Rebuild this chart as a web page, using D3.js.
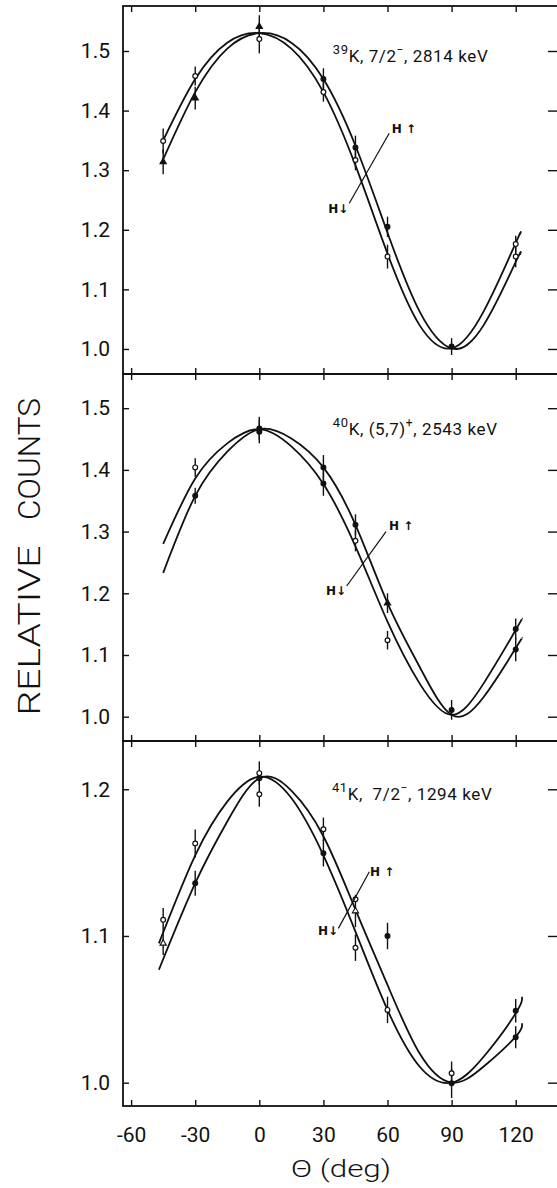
<!DOCTYPE html>
<html>
<head>
<meta charset="utf-8">
<script src="https://cdn.jsdelivr.net/npm/d3@7"></script>
<style>
  body { margin: 0; background: #fff; }
  svg { display: block; }
  text { font-family: Roboto, "DejaVu Sans", sans-serif; fill: #111; }
</style>
</head>
<body>
<script>
// x axis ticks (deg)
const xTicks = [-60, -30, 0, 30, 60, 90, 120];

// ---- 39K panel ----
const topTicks = [1.0, 1.1, 1.2, 1.3, 1.4, 1.5];
const topTheta = [-45, -30, -15, 0, 15, 30, 45, 60, 75, 90, 105, 120, 122];
const topDown  = [1.350, 1.453, 1.514, 1.530, 1.504, 1.431, 1.308, 1.160, 1.040, 1.001, 1.063, 1.178, 1.192];
const topUp    = [1.318, 1.431, 1.504, 1.530, 1.514, 1.453, 1.341, 1.195, 1.063, 1.001, 1.040, 1.146, 1.158];
// [theta, value, error, marker]
const topPoints = [
  [-45, 1.349, 0.021, "o"], [-45, 1.314, 0.021, "t"],
  [-30, 1.458, 0.016, "o"], [-30, 1.421, 0.019, "t"],
  [0, 1.541, 0.019, "t"], [0, 1.520, 0.024, "o"],
  [30, 1.453, 0.018, "f"], [30, 1.431, 0.016, "o"],
  [45, 1.338, 0.020, "f"], [45, 1.317, 0.017, "o"],
  [60, 1.205, 0.017, "f"], [60, 1.155, 0.020, "o"],
  [90, 1.004, 0.014, "f"],
  [120, 1.176, 0.014, "o"], [120, 1.155, 0.018, "o"]
];

// ---- 40K panel ----
const midTicks = [1.0, 1.1, 1.2, 1.3, 1.4, 1.5];
const midTheta = [-45, -30, -15, 0, 15, 30, 45, 60, 75, 90, 105, 120, 123];
const midDown  = [1.280, 1.386, 1.443, 1.466, 1.438, 1.377, 1.276, 1.154, 1.054, 1.003, 1.054, 1.1405, 1.159];
const midUp    = [1.233, 1.358, 1.4295, 1.466, 1.451, 1.404, 1.311, 1.184, 1.081, 1.003, 1.032, 1.111, 1.127];
const midPoints = [
  [-30, 1.404, 0.015, "o"], [-30, 1.358, 0.013, "f"],
  [0, 1.467, 0.019, "f"], [0, 1.462, 0.019, "f"],
  [30, 1.404, 0.020, "f"], [30, 1.378, 0.020, "f"],
  [45, 1.311, 0.017, "f"], [45, 1.285, 0.017, "o"],
  [60, 1.184, 0.016, "t"], [60, 1.124, 0.015, "o"],
  [90, 1.011, 0.016, "f"],
  [120, 1.142, 0.017, "f"], [120, 1.109, 0.019, "f"]
];

// ---- 41K panel ----
const botTicks = [1.0, 1.1, 1.2];
const botTheta = [-47, -30, -15, 0, 15, 30, 45, 60, 75, 90, 105, 120, 123];
const botDown  = [1.095, 1.155, 1.1916, 1.2086, 1.194, 1.155, 1.103, 1.0496, 1.011, 1.000, 1.0177, 1.0473, 1.0586];
const botUp    = [1.077, 1.136, 1.178, 1.2075, 1.199, 1.168, 1.118, 1.0666, 1.020, 1.000, 1.011, 1.0314, 1.0405];
const botPoints = [
  [-45, 1.111, 0.008, "o"], [-45, 1.095, 0.008, "ot"],
  [-30, 1.163, 0.0095, "o"], [-30, 1.136, 0.0085, "f"],
  [0, 1.211, 0.008, "o"], [0, 1.2075, 0, "f"], [0, 1.1966, 0.0085, "o"],
  [30, 1.1727, 0.008, "o"], [30, 1.1564, 0.009, "f"],
  [45, 1.125, 0, "o"], [45, 1.117, 0.011, "ot"], [45, 1.092, 0.009, "o"],
  [60, 1.100, 0.009, "f"], [60, 1.0496, 0.009, "o"],
  [90, 1.0064, 0.008, "o"], [90, 0.9996, 0.010, "f"],
  [120, 1.049, 0.008, "f"], [120, 1.031, 0.0075, "f"]
];

// panel labels: [mass number, spin text, spin sign, energy text]
const labels = [
  ["39", "K, 7/2", "\u2212", ", 2814 keV"],
  ["40", "K, (5,7)", "+", ", 2543 keV"],
  ["41", "K,  7/2", "\u2212", ", 1294 keV"]
];

const width = 557, height = 1188;
const frame = {left: 123, right: 561};

const svg = d3.select("body").append("svg")
    .attr("width", width)
    .attr("height", height);

const x = d3.scaleLinear().domain([-63.8, 141.2]).range([frame.left, frame.right]);

// layout of the three stacked panels; annotation anchors in data units
const panels = [
  {top: 6, bottom: 374, domain: [0.958, 1.5755], ticks: topTicks,
   theta: topTheta, down: topDown, up: topUp, points: topPoints, label: labels[0],
   lab: [34.4, 1.4815], hUp: [62, 1.3616], hDown: [32.3, 1.228], lead: [[60.8, 1.362], [42.1, 1.2445]]},
  {top: 374, bottom: 741, domain: [0.9606, 1.5554], ticks: midTicks,
   theta: midTheta, down: midDown, up: midUp, points: midPoints, label: labels[1],
   lab: [34.4, 1.4566], hUp: [60.7, 1.3018], hDown: [31.2, 1.197], lead: [[59.3, 1.2998], [40.9, 1.2118]]},
  {top: 741, bottom: 1106, domain: [0.9841, 1.2329], ticks: botTicks,
   theta: botTheta, down: botDown, up: botUp, points: botPoints, label: labels[2],
   lab: [34, 1.1927], hUp: [51.8, 1.1412], hDown: [27.5, 1.1007], lead: [[51.5, 1.1438], [37, 1.1052]]}
];

panels.forEach((p, i) => {
  const y = d3.scaleLinear().domain(p.domain).range([p.bottom, p.top]);
  const g = svg.append("g");

  // frame
  g.append("rect")
      .attr("x", frame.left).attr("y", p.top)
      .attr("width", frame.right - frame.left).attr("height", p.bottom - p.top)
      .attr("fill", "none").attr("stroke", "#111").attr("stroke-width", 1.8);

  // axes, ticks pointing inward
  const left = g.append("g")
      .attr("transform", `translate(${frame.left},0)`)
      .call(d3.axisLeft(y).tickValues(p.ticks).tickSize(-6).tickPadding(13).tickFormat(d3.format(".1f")));
  const right = g.append("g")
      .attr("transform", `translate(${frame.right},0)`)
      .call(d3.axisRight(y).tickValues(p.ticks).tickSize(-13).tickFormat(""));
  const topAx = g.append("g")
      .attr("transform", `translate(0,${p.top})`)
      .call(d3.axisTop(x).tickValues(xTicks).tickSize(-6).tickFormat(""));
  const botAx = g.append("g")
      .attr("transform", `translate(0,${p.bottom})`)
      .call(d3.axisBottom(x).tickValues(xTicks).tickSize(-6).tickPadding(21)
        .tickFormat(i === 2 ? (d => String(d)) : ""));

  [left, right, topAx, botAx].forEach(a => {
    a.select(".domain").remove();
    a.selectAll("line").attr("stroke", "#111").attr("stroke-width", 1.4);
    a.selectAll("text").style("font-size", "21px").attr("fill", "#111");
  });

  // fitted curves for both field directions
  const line = d3.line()
      .x(d => x(d[0]))
      .y(d => y(d[1]))
      .curve(d3.curveNatural);

  [p.down, p.up].forEach(vals => {
    g.append("path")
        .datum(p.theta.map((t, k) => [t, vals[k]]))
        .attr("d", line)
        .attr("fill", "none")
        .attr("stroke", "#111")
        .attr("stroke-width", 1.8);
  });

  // error bars
  g.selectAll(".err")
      .data(p.points.filter(d => d[2] > 0))
      .enter().append("line")
      .attr("x1", d => x(d[0])).attr("x2", d => x(d[0]))
      .attr("y1", d => y(d[1] - d[2])).attr("y2", d => y(d[1] + d[2]))
      .attr("stroke", "#111").attr("stroke-width", 1.4);

  // markers
  const tri = d3.symbol().type(d3.symbolTriangle).size(17);
  p.points.forEach(d => {
    const cx = x(d[0]), cy = y(d[1]);
    if (d[3] === "t" || d[3] === "ot") {
      g.append("path")
          .attr("d", tri())
          .attr("transform", `translate(${cx},${cy})`)
          .attr("fill", d[3] === "t" ? "#111" : "#fff")
          .attr("stroke", "#111").attr("stroke-width", 1.1);
    } else {
      g.append("circle")
          .attr("cx", cx).attr("cy", cy).attr("r", 2.4)
          .attr("fill", d[3] === "f" ? "#111" : "#fff")
          .attr("stroke", "#111").attr("stroke-width", 1.2);
    }
  });

  // nucleus / level label
  const lt = g.append("text")
      .attr("x", x(p.lab[0])).attr("y", y(p.lab[1]))
      .style("font-size", "17px")
      .style("letter-spacing", "0.6px")
      .attr("xml:space", "preserve");
  lt.append("tspan").attr("dy", -8).style("font-size", "13px").text(p.label[0]);
  lt.append("tspan").attr("dy", 8).text(p.label[1]);
  lt.append("tspan").attr("dy", -8).style("font-size", "12px").text(p.label[2]);
  lt.append("tspan").attr("dy", 8).text(p.label[3]);

  // H up / H down annotation
  g.append("line")
      .attr("x1", x(p.lead[0][0])).attr("y1", y(p.lead[0][1]))
      .attr("x2", x(p.lead[1][0])).attr("y2", y(p.lead[1][1]))
      .attr("stroke", "#111").attr("stroke-width", 1.2);
  g.append("text")
      .attr("x", x(p.hUp[0])).attr("y", y(p.hUp[1]))
      .style("font-family", "'DejaVu Sans', sans-serif")
      .style("font-size", "12px").style("font-weight", "bold")
      .text("H \u2191");
  g.append("text")
      .attr("x", x(p.hDown[0])).attr("y", y(p.hDown[1]))
      .style("font-family", "'DejaVu Sans', sans-serif")
      .style("font-size", "12px").style("font-weight", "bold")
      .text("H\u2193");
});

// y axis title
svg.append("text")
    .attr("transform", "translate(40,630.5) rotate(-90)")
    .attr("text-anchor", "middle")
    .attr("textLength", 170)
    .attr("lengthAdjust", "spacingAndGlyphs")
    .style("font-size", "31px")
    .style("font-weight", 300)
    .text("RELATIVE");
svg.append("text")
    .attr("transform", "translate(40,459) rotate(-90)")
    .attr("text-anchor", "middle")
    .attr("textLength", 122)
    .attr("lengthAdjust", "spacingAndGlyphs")
    .style("font-size", "31px")
    .style("font-weight", 300)
    .text("COUNTS");

// x axis title
svg.append("text")
    .attr("x", 341)
    .attr("y", 1177)
    .attr("text-anchor", "middle")
    .attr("textLength", 100)
    .attr("lengthAdjust", "spacingAndGlyphs")
    .style("font-size", "24px")
    .style("font-weight", 300)
    .text("\u0398 (deg)");
</script>
</body>
</html>
